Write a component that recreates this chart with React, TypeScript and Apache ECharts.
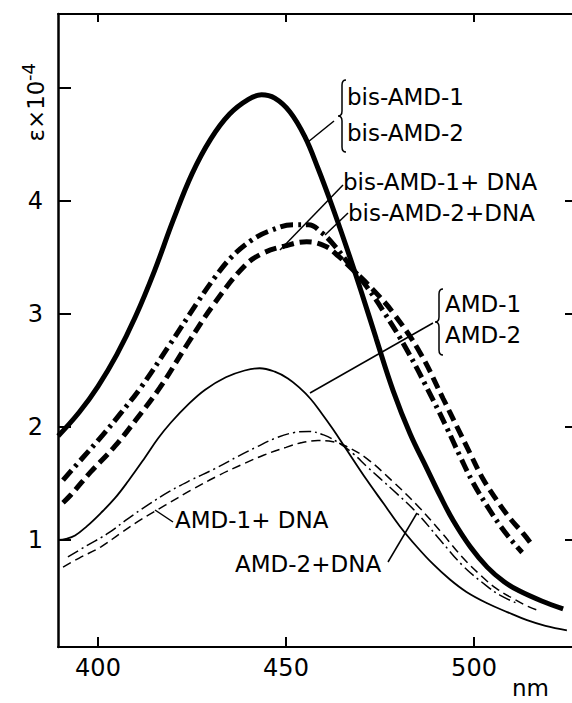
import React, { useEffect, useRef } from 'react';
import * as echarts from 'echarts';

const xTicks = [400, 450, 500];
const yTicks = [1, 2, 3, 4, 5];
const yLabelValues = [1, 2, 3, 4];
const yRightTicks = [1, 2, 3, 4];

// bis-AMD-1 / bis-AMD-2 (identical curve)
const bisAMD: [number, number][] = [
  [389.4, 1.92], [395, 2.13], [400, 2.36], [405, 2.64], [410, 2.98], [415, 3.38], [420, 3.83],
  [425, 4.24], [430, 4.55], [435, 4.77], [440, 4.9], [443.5, 4.94], [447, 4.91], [451, 4.79],
  [455, 4.57], [458.5, 4.29], [462, 3.98], [466, 3.6], [470, 3.2], [474, 2.78], [478.5, 2.32],
  [483, 1.94], [487.5, 1.63], [491, 1.39], [494.5, 1.17], [499, 0.94], [503.5, 0.76], [508, 0.63],
  [512, 0.55], [518, 0.46], [523.7, 0.39],
];

// bis-AMD-1 + DNA (dash-dot)
const bisAMD1DNA: [number, number][] = [
  [390.7, 1.53], [396, 1.73], [401.3, 1.93], [406, 2.12], [411.4, 2.35], [419.1, 2.73], [426.6, 3.11],
  [431, 3.32], [435.4, 3.5], [440.7, 3.65], [446, 3.74], [452, 3.79], [456, 3.79], [459.5, 3.72],
  [463, 3.6], [467.5, 3.41], [471.5, 3.24], [475.8, 3.03], [482.2, 2.68], [489.1, 2.24], [492.8, 1.99],
  [496.3, 1.74], [499.7, 1.51], [503.5, 1.3], [506.9, 1.13], [510.4, 0.98], [512.8, 0.89],
];

// bis-AMD-2 + DNA (dashed)
const bisAMD2DNA: [number, number][] = [
  [390.7, 1.33], [392.8, 1.4], [398, 1.6], [404.5, 1.83], [410, 2.06], [416.5, 2.35], [423.7, 2.73],
  [431.1, 3.1], [439.1, 3.43], [444, 3.54], [449.5, 3.6], [455.5, 3.64], [460.5, 3.6], [464, 3.51],
  [467.5, 3.4], [473, 3.22], [478.5, 3.01], [485.6, 2.66], [491.8, 2.25], [495.5, 2.0], [498.9, 1.77],
  [502.4, 1.54], [506.1, 1.35], [509.6, 1.19], [513.0, 1.06], [514.9, 0.98],
];

// AMD-1 / AMD-2 (identical curve)
const amd: [number, number][] = [
  [389.4, 1.0], [391.5, 1.01], [393.9, 1.04], [397, 1.12], [400.8, 1.24], [404.5, 1.37], [408, 1.52],
  [412.5, 1.73], [416, 1.9], [419.4, 2.04], [424, 2.2], [428.5, 2.33], [434, 2.44], [439, 2.5],
  [443, 2.52], [447, 2.49], [450.5, 2.43], [453.5, 2.35], [456.5, 2.25], [459.5, 2.12], [462.5, 1.98],
  [465.5, 1.83], [471.5, 1.53], [476, 1.32], [480.3, 1.12], [484.8, 0.94], [489, 0.79], [493.6, 0.65],
  [498, 0.54], [503.5, 0.44], [509, 0.36], [514.1, 0.29], [519, 0.24], [524.7, 0.2],
];

// AMD-1 + DNA (thin dash-dot)
const amd1DNA: [number, number][] = [
  [392.0, 0.85], [397, 0.95], [402.7, 1.06], [408, 1.19], [413.3, 1.31], [419, 1.43], [424.7, 1.53],
  [431, 1.63], [437.2, 1.74], [442, 1.82], [447.1, 1.9], [452, 1.95], [456, 1.96], [460, 1.93],
  [464, 1.86], [468, 1.76], [471.5, 1.65], [478.5, 1.44], [484.8, 1.24], [491, 1.0], [497.1, 0.77],
  [503.5, 0.59], [507, 0.51], [511.4, 0.44],
];

// AMD-2 + DNA (thin dashed)
const amd2DNA: [number, number][] = [
  [390.7, 0.76], [395, 0.84], [400.8, 0.94], [406, 1.06], [411.4, 1.18], [418, 1.31], [424.7, 1.44],
  [432, 1.57], [439.1, 1.68], [444, 1.75], [450, 1.82], [454, 1.86], [458.5, 1.88], [462.5, 1.87],
  [466, 1.83], [471.5, 1.72], [478, 1.53], [484.8, 1.31], [491.5, 1.06], [497.1, 0.84], [502, 0.68],
  [506, 0.57], [511, 0.47], [514.5, 0.41], [517.6, 0.37],
];

const FONT = 'DejaVu Sans';

function braceD(h: number, w: number) {
  const m = w / 2;
  const c = h / 2;
  return `M${w} 0 Q${m} 0 ${m} 5 L${m} ${c - 5} Q${m} ${c} 0 ${c} Q${m} ${c} ${m} ${c + 5} L${m} ${h - 5} Q${m} ${h} ${w} ${h}`;
}

export default function App() {
  const ref = useRef<HTMLDivElement>(null);
  useEffect(() => {
    document.body.style.margin = '0';
    try {
      echarts.graphic.registerShape('braceBis', echarts.graphic.extendPath(braceD(72, 8), {}) as any);
      echarts.graphic.registerShape('braceAmd', echarts.graphic.extendPath(braceD(66, 8), {}) as any);
    } catch (e) {
      /* ignore */
    }
    const chart = echarts.init(ref.current!, null, { renderer: 'svg' });
    const black = '#000';
    const xMin = 389.36;
    const xMax = 526.06;
    const yMin = 0.053;
    const yMax = 5.655;

    const text = (t: string, x: number, y: number, size = 23) => ({
      type: 'text',
      x,
      y,
      z: 100,
      style: { text: t, fontSize: size, fontFamily: FONT, fill: black, align: 'left', verticalAlign: 'middle' },
    });
    const line = (x1: number, y1: number, x2: number, y2: number) => ({
      type: 'line',
      z: 100,
      shape: { x1, y1, x2, y2 },
      style: { stroke: black, lineWidth: 1.5 },
    });

    const mk = (name: string, data: [number, number][], width: number, type: any) => ({
      name,
      type: 'line',
      data,
      showSymbol: false,
      symbol: 'none',
      smooth: 0.4,
      lineStyle: { color: black, width, type, cap: 'butt' },
      emphasis: { disabled: true },
      z: 5,
    });

    chart.setOption({
      animation: false,
      backgroundColor: '#fff',
      grid: { left: 58, right: 0, top: 14, bottom: 56, containLabel: false, outerBoundsMode: 'none' },
      xAxis: [
        {
          type: 'value',
          min: xMin,
          max: xMax,
          position: 'bottom',
          axisLine: { show: true, lineStyle: { color: black, width: 2 } },
          axisTick: { show: true, inside: true, length: 10, customValues: xTicks, lineStyle: { color: black, width: 2 } },
          axisLabel: { show: true, customValues: xTicks, margin: 9, fontSize: 24, fontFamily: FONT, color: black },
          splitLine: { show: false },
        },
        {
          type: 'value',
          min: xMin,
          max: xMax,
          position: 'top',
          axisLine: { show: true, lineStyle: { color: black, width: 2 } },
          axisTick: { show: true, inside: true, length: 8, customValues: xTicks, lineStyle: { color: black, width: 2 } },
          axisLabel: { show: false },
          splitLine: { show: false },
        },
      ],
      yAxis: [
        {
          type: 'value',
          min: yMin,
          max: yMax,
          position: 'left',
          axisLine: { show: true, lineStyle: { color: black, width: 2.5 } },
          axisTick: { show: true, inside: true, length: 13, customValues: yTicks, lineStyle: { color: black, width: 2 } },
          axisLabel: { show: true, customValues: yLabelValues, margin: 15, fontSize: 24, fontFamily: FONT, color: black },
          splitLine: { show: false },
        },
        {
          type: 'value',
          min: yMin,
          max: yMax,
          position: 'right',
          axisLine: { show: false },
          axisTick: { show: true, inside: true, length: 7, customValues: yRightTicks, lineStyle: { color: black, width: 2 } },
          axisLabel: { show: false },
          splitLine: { show: false },
        },
      ],
      series: [
        mk('bis-AMD-1 / bis-AMD-2', bisAMD, 5, 'solid'),
        mk('bis-AMD-1 + DNA', bisAMD1DNA, 5, [13, 5, 3, 5]),
        mk('bis-AMD-2 + DNA', bisAMD2DNA, 5, [12, 6]),
        mk('AMD-1 / AMD-2', amd, 1.8, 'solid'),
        mk('AMD-1 + DNA', amd1DNA, 1.5, [12, 4, 2, 4]),
        mk('AMD-2 + DNA', amd2DNA, 1.5, [9, 5]),
      ],
      graphic: [
        {
          type: 'text',
          x: 36,
          y: 111,
          rotation: Math.PI / 2,
          z: 100,
          style: { text: 'ε×10', fontSize: 23, fontFamily: FONT, fill: black, align: 'center', verticalAlign: 'middle' },
        },
        {
          type: 'text',
          x: 28,
          y: 72,
          rotation: Math.PI / 2,
          z: 100,
          style: { text: '-4', fontSize: 18, fontFamily: FONT, fill: black, align: 'center', verticalAlign: 'middle' },
        },
        text('nm', 512, 688),
        text('bis-AMD-1', 347, 97),
        text('bis-AMD-2', 347, 133),
        text('bis-AMD-1+ DNA', 343, 182),
        text('bis-AMD-2+DNA', 348, 213),
        text('AMD-1', 445, 304),
        text('AMD-2', 445, 335),
        text('AMD-1+ DNA', 175, 520),
        text('AMD-2+DNA', 235, 564),
        { type: 'braceBis', x: 338, y: 80, z: 100, style: { stroke: black, fill: 'none', lineWidth: 1.5 } },
        { type: 'braceAmd', x: 435, y: 289, z: 100, style: { stroke: black, fill: 'none', lineWidth: 1.5 } },
        line(334, 121, 308, 142),
        line(343, 185, 280, 250),
        line(348, 213, 325, 235),
        line(433, 323, 310, 393),
        line(173, 522, 155, 510),
        line(388, 562, 417, 513),
      ],
    });
    return () => chart.dispose();
  }, []);
  return <div ref={ref} style={{ width: 572, height: 703 }} />;
}
